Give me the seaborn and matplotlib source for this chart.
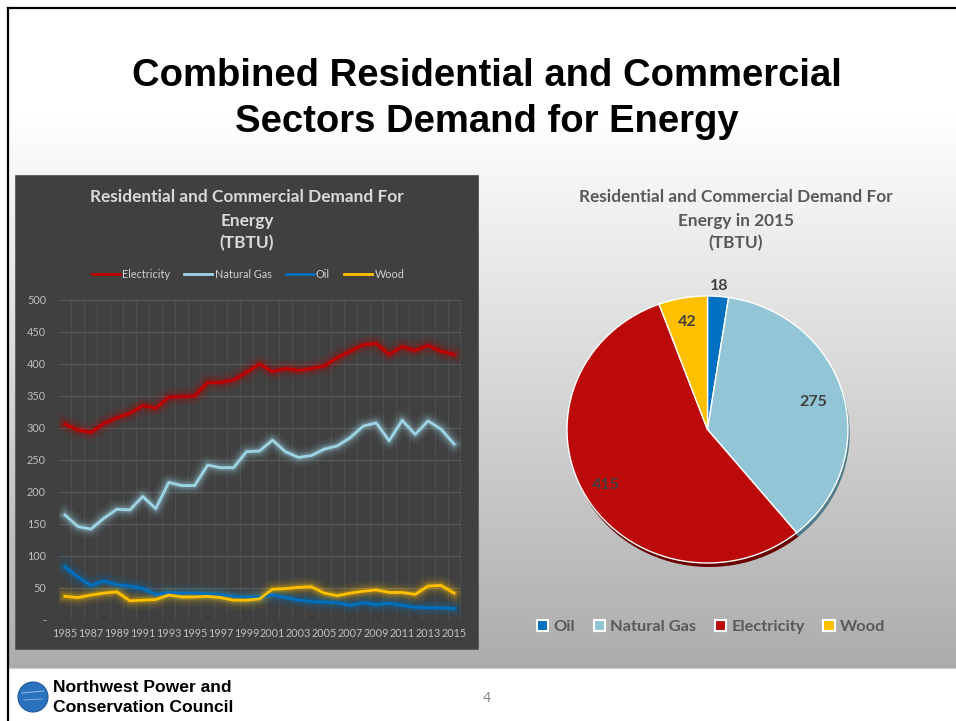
import numpy as np
import pandas as pd
import matplotlib
matplotlib.use("Agg")
import matplotlib.pyplot as plt
import seaborn as sns
from matplotlib.patches import Rectangle, Circle, Patch
from matplotlib.lines import Line2D

# ---------------- data ----------------
years = list(range(1985, 2016))
electricity = [306, 297, 293, 307, 316, 323, 335, 331, 348, 349, 350, 371, 371, 375, 387,
               400, 388, 393, 390, 393, 397, 410, 420, 430, 432, 415, 427, 421, 429, 420, 415]
natural_gas = [164, 146, 142, 159, 173, 172, 193, 174, 215, 210, 210, 242, 238, 238, 263,
               264, 281, 263, 254, 257, 267, 272, 285, 303, 308, 280, 312, 290, 311, 298, 275]
oil = [83, 67, 54, 61, 55, 53, 49, 40, 43, 42, 42, 41, 40, 37, 36,
       36, 39, 35, 31, 29, 28, 27, 23, 27, 24, 26, 23, 20, 19, 19, 18]
wood = [37, 35, 39, 42, 44, 30, 31, 32, 39, 36, 36, 37, 35, 31, 31,
        33, 48, 49, 51, 52, 42, 38, 42, 45, 47, 43, 43, 40, 53, 54, 42]

series_names = ["Electricity", "Natural Gas", "Oil", "Wood"]
line_colors = ["#C00000", "#9DD5E6", "#0070C0", "#FFC000"]

pie_labels = ["Oil", "Natural Gas", "Electricity", "Wood"]
pie_values = [18, 275, 415, 42]
pie_colors = ["#0070C0", "#92C5D5", "#BC0A0A", "#FFC000"]
pie_shadow = ["#003e6b", "#4f7c8a", "#6a0000", "#8a6800"]

ytick_vals = list(range(0, 501, 50))
ytick_labels = ["-" if v == 0 else str(v) for v in ytick_vals]
xtick_years = years[::2]

df = pd.DataFrame({
    "year": years * 4,
    "value": electricity + natural_gas + oil + wood,
    "series": sum([[n] * len(years) for n in series_names], []),
})
pal = dict(zip(series_names, line_colors))

# ---------------- figure ----------------
W, H = 956, 721
plt.rcParams['font.family'] = ['Lato', 'DejaVu Sans']
fig = plt.figure(figsize=(W / 100, H / 100), dpi=100, facecolor="white")

# background layer in pixel coordinates
bg = fig.add_axes([0, 0, 1, 1], zorder=0)
bg.set_xlim(0, W)
bg.set_ylim(H, 0)
bg.axis("off")
yy = np.arange(H)
vals = np.where(yy < 110, 255, 255 - (yy - 110) * (83 / 558))
vals = np.where(yy >= 668, 255, vals)
grad = np.repeat(vals[:, None], 2, axis=1) / 255.0
img = np.dstack([grad, grad, grad])
bg.imshow(img, extent=(8, W, H, 8), aspect="auto", interpolation="bilinear", zorder=0)
# slide border
bg.plot([8, 8], [8, H], color="black", lw=1.6, zorder=3)
bg.plot([8, W], [8, 8], color="black", lw=1.6, zorder=3)
# dark chart panel
bg.add_patch(Rectangle((15, 175), 463, 474, facecolor="#404040", edgecolor="#595959", lw=0.6, zorder=2))

# slide title
bg.text(487, 76, "Combined Residential and Commercial", ha="center", va="center",
        fontsize=27.5, fontweight="bold", family="Liberation Sans", color="black", zorder=4)
bg.text(487, 122, "Sectors Demand for Energy", ha="center", va="center",
        fontsize=27.5, fontweight="bold", family="Liberation Sans", color="black", zorder=4)

# chart titles
for i, t in enumerate(["Residential and Commercial Demand For", "Energy", "(TBTU)"]):
    bg.text(247, [197, 221, 243][i], t, ha="center", va="center", fontsize=12.4,
            fontweight="bold", color="#d9d9d9", zorder=4)
for i, t in enumerate(["Residential and Commercial Demand For", "Energy in 2015", "(TBTU)"]):
    bg.text(736, [197, 221, 243][i], t, ha="center", va="center", fontsize=12.4,
            fontweight="bold", color="#595959", zorder=4)

# footer: logo and page number
bg.add_patch(Circle((33, 697), 15, facecolor="#2a72bd", edgecolor="#1b5a9e", lw=0.8, zorder=4))
bg.plot([22, 44], [693, 691], color="#8fb8e0", lw=0.8, zorder=5)
bg.plot([24, 42], [700, 699], color="#8fb8e0", lw=0.6, zorder=5)
bg.text(53, 688, "Northwest Power and", ha="left", va="center", fontsize=12.6,
        fontweight="bold", family="Liberation Sans", color="black", zorder=4)
bg.text(53, 707, "Conservation Council", ha="left", va="center", fontsize=12.6,
        fontweight="bold", family="Liberation Sans", color="black", zorder=4)
bg.text(487, 698, "4", ha="center", va="center", fontsize=10, color="#8a8a8a", zorder=4)

# ---------------- line chart ----------------
ax = fig.add_axes([58.5 / W, 1 - 620 / H, 402 / W, 320 / H], zorder=2)
ax.set_facecolor("none")
for lw, a in [(14, 0.05), (10, 0.08), (7, 0.13), (4.5, 0.22)]:
    sns.lineplot(data=df, x="year", y="value", hue="series", hue_order=series_names,
                 palette=pal, linewidth=lw, alpha=a, legend=False, errorbar=None, ax=ax)
sns.lineplot(data=df, x="year", y="value", hue="series", hue_order=series_names,
             palette=pal, linewidth=2.0, legend=False, errorbar=None, ax=ax)

ax.set_xlim(1984.5, 2015.5)
ax.set_ylim(0, 500)
ax.set_yticks(ytick_vals)
ax.set_yticklabels(ytick_labels)
ax.set_xticks(xtick_years)
ax.set_xticklabels([str(y) for y in xtick_years])
ax.set_xticks(np.arange(1984.5, 2016, 1.0), minor=True)
ax.grid(axis="y", which="major", color="#5c5c5c", lw=0.8)
ax.grid(axis="x", which="minor", color="#515151", lw=0.6)
ax.grid(axis="x", which="major", visible=False)
ax.set_axisbelow(True)
ax.tick_params(axis="both", which="both", length=0, labelsize=7.8, colors="#bfbfbf")
ax.tick_params(axis="y", pad=9)
ax.tick_params(axis="x", pad=6)
ax.set_xlabel("")
ax.set_ylabel("")
for s in ax.spines.values():
    s.set_visible(False)

handles = [Line2D([0], [0], color=c, lw=2) for c in line_colors]
fig.legend(handles, series_names, loc="center", bbox_to_anchor=(248 / W, 1 - 274 / H),
           ncol=4, frameon=False, fontsize=7.8, labelcolor="#d0d0d0",
           handlelength=2.6, handletextpad=0.2, columnspacing=1.3)

# ---------------- pie chart ----------------
pax = fig.add_axes([567 / W, 1 - 563 / H, 281 / W, 267 / H], zorder=2)
pax.pie(pie_values, colors=pie_shadow, startangle=90, counterclock=False,
        center=(0.012, -0.03), wedgeprops=dict(linewidth=0))
wedges, _ = pax.pie(pie_values, colors=pie_colors, startangle=90, counterclock=False,
                    wedgeprops=dict(edgecolor="white", linewidth=1.0))
pax.set_aspect("auto")
pax.set_xlim(-1.0, 1.0)
pax.set_ylim(-1.0, 1.0)
pax.axis("off")
label_r = [1.08, 0.78, 0.83, 0.82]
for w, v, r in zip(wedges, pie_values, label_r):
    ang = np.deg2rad((w.theta1 + w.theta2) / 2)
    pax.text(r * np.cos(ang), r * np.sin(ang), str(v), ha="center", va="center",
             fontsize=11.5, fontweight="bold", color="#404040", clip_on=False)

pie_handles = [Patch(facecolor=c, edgecolor="white", linewidth=1.5) for c in pie_colors]
fig.legend(pie_handles, pie_labels, loc="center", bbox_to_anchor=(711 / W, 1 - 627 / H),
           ncol=4, frameon=False, prop=dict(size=11.8, weight="bold"), labelcolor="#595959",
           handlelength=0.7, handleheight=0.7, handletextpad=0.3, columnspacing=1.15)

fig.savefig("out.png", dpi=100, facecolor="white")
